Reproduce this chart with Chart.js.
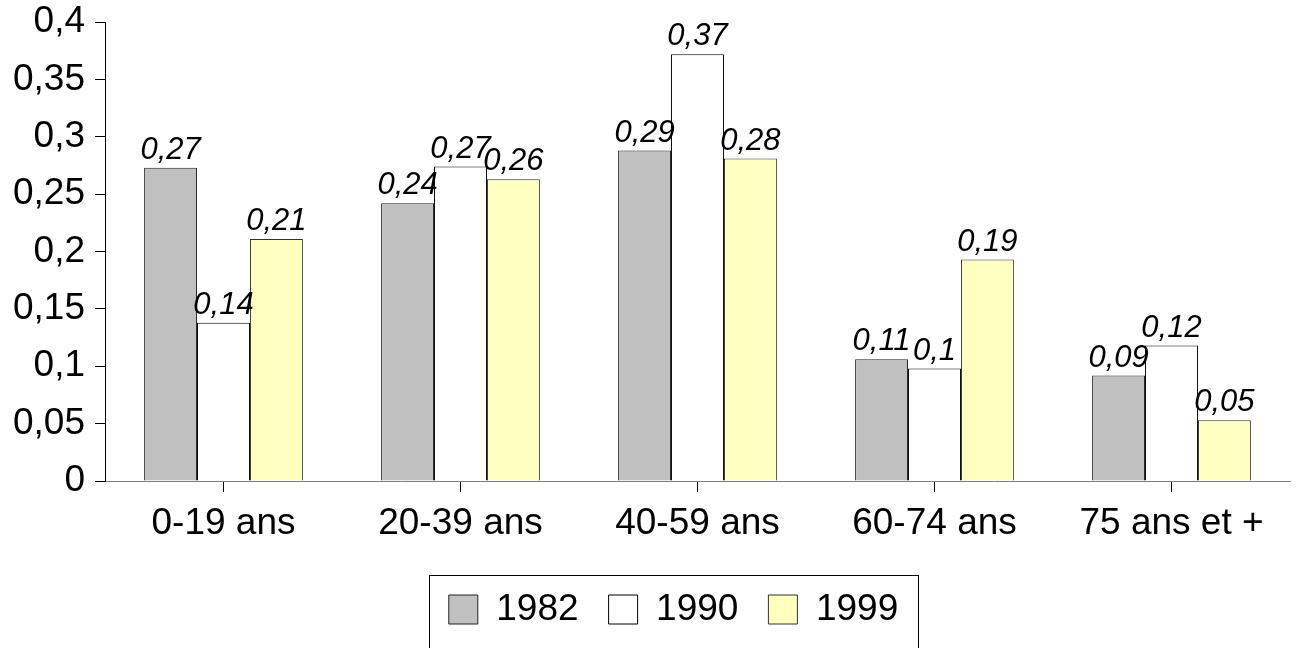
<!DOCTYPE html>
<html>
<head>
<meta charset="utf-8">
<script src="https://cdn.jsdelivr.net/npm/chart.js@4/dist/chart.umd.min.js"></script>
<style>
  html, body { margin: 0; padding: 0; background: #fff; }
  #wrap { width: 1298px; height: 648px; }
</style>
</head>
<body>
<div id="wrap"><canvas id="chart"></canvas></div>
<script>
// data
const categories = ['0-19 ans', '20-39 ans', '40-59 ans', '60-74 ans', '75 ans et +'];
const years = ['1982', '1990', '1999'];
const values1982 = [0.273, 0.242, 0.288, 0.106, 0.092];
const values1990 = [0.138, 0.274, 0.372, 0.098, 0.118];
const values1999 = [0.211, 0.263, 0.281, 0.193, 0.053];
const yTicksMax = 0.4;
const yTickStep = 0.05;

const FONT = 'Arial, "Liberation Sans", sans-serif';
const fmt = v => String(Math.round(v * 100) / 100).replace('.', ',');

// value labels above each bar
const barLabels = {
  id: 'barLabels',
  afterDatasetsDraw(chart) {
    const ctx = chart.ctx;
    ctx.save();
    ctx.font = 'italic 31px ' + FONT;
    ctx.fillStyle = '#000';
    ctx.textAlign = 'center';
    ctx.textBaseline = 'bottom';
    chart.data.datasets.forEach((ds, i) => {
      chart.getDatasetMeta(i).data.forEach((bar, j) => {
        ctx.fillText(fmt(ds.data[j]), bar.x, bar.y - 2);
      });
    });
    ctx.restore();
  }
};

// legend sits a bit right of the page centre, inside a frame
const legendFrame = {
  id: 'legendFrame',
  afterLayout(chart) {
    const lg = chart.legend;
    if (!lg) return;
    const delta = 57 - lg.left;
    lg.left = 57;
    lg.legendHitBoxes.forEach(h => { h.left += delta / 2; });
  },
  afterDraw(chart) {
    const lg = chart.legend;
    if (!lg || !lg.legendHitBoxes.length) return;
    const hb = lg.legendHitBoxes;
    const x0 = Math.min(...hb.map(h => h.left)) - 20;
    const x1 = Math.max(...hb.map(h => h.left + h.width)) + 20;
    const y0 = hb[0].top - 16;
    const ctx = chart.ctx;
    ctx.save();
    ctx.strokeStyle = '#000';
    ctx.lineWidth = 1;
    ctx.strokeRect(Math.round(x0) + 0.5, Math.round(y0) + 0.5, Math.round(x1 - x0), 120);
    ctx.restore();
  }
};

new Chart(document.getElementById('chart'), {
  type: 'bar',
  data: {
    labels: categories,
    datasets: [
      { label: years[0], data: values1982, backgroundColor: '#c0c0c0', borderColor: '#222', borderWidth: 1 },
      { label: years[1], data: values1990, backgroundColor: '#ffffff', borderColor: '#000', borderWidth: 1 },
      { label: years[2], data: values1999, backgroundColor: '#ffffc0', borderColor: '#333', borderWidth: 1 },
    ],
  },
  options: {
    responsive: true,
    maintainAspectRatio: false,
    animation: false,
    layout: { padding: { top: 22, right: 8, left: 0, bottom: 10 } },
    datasets: { bar: { categoryPercentage: 0.67, barPercentage: 1 } },
    plugins: {
      tooltip: { enabled: false },
      legend: {
        position: 'bottom',
        labels: {
          color: '#000',
          font: { family: FONT, size: 37 },
          boxWidth: 29,
          boxHeight: 29,
          padding: 30,
          useBorderRadius: false,
        },
        onClick: null,
      },
    },
    scales: {
      x: {
        grid: { display: true, drawOnChartArea: false, offset: false, tickLength: 11, color: '#000' },
        border: { display: true, color: '#808080', width: 1 },
        ticks: { color: '#000', font: { family: FONT, size: 37 }, padding: 10, maxRotation: 0 },
        afterFit: s => { s.height = 80; },
      },
      y: {
        min: 0,
        max: yTicksMax,
        grid: { display: true, drawOnChartArea: false, tickLength: 10, color: '#000' },
        border: { display: true, color: '#000', width: 1 },
        ticks: { stepSize: yTickStep, color: '#000', font: { family: FONT, size: 37 }, padding: 10, callback: v => fmt(v) },
        afterFit: s => { s.width = 105; s.paddingTop = 0; },
      },
    },
  },
  plugins: [barLabels, legendFrame],
});
</script>
</body>
</html>
